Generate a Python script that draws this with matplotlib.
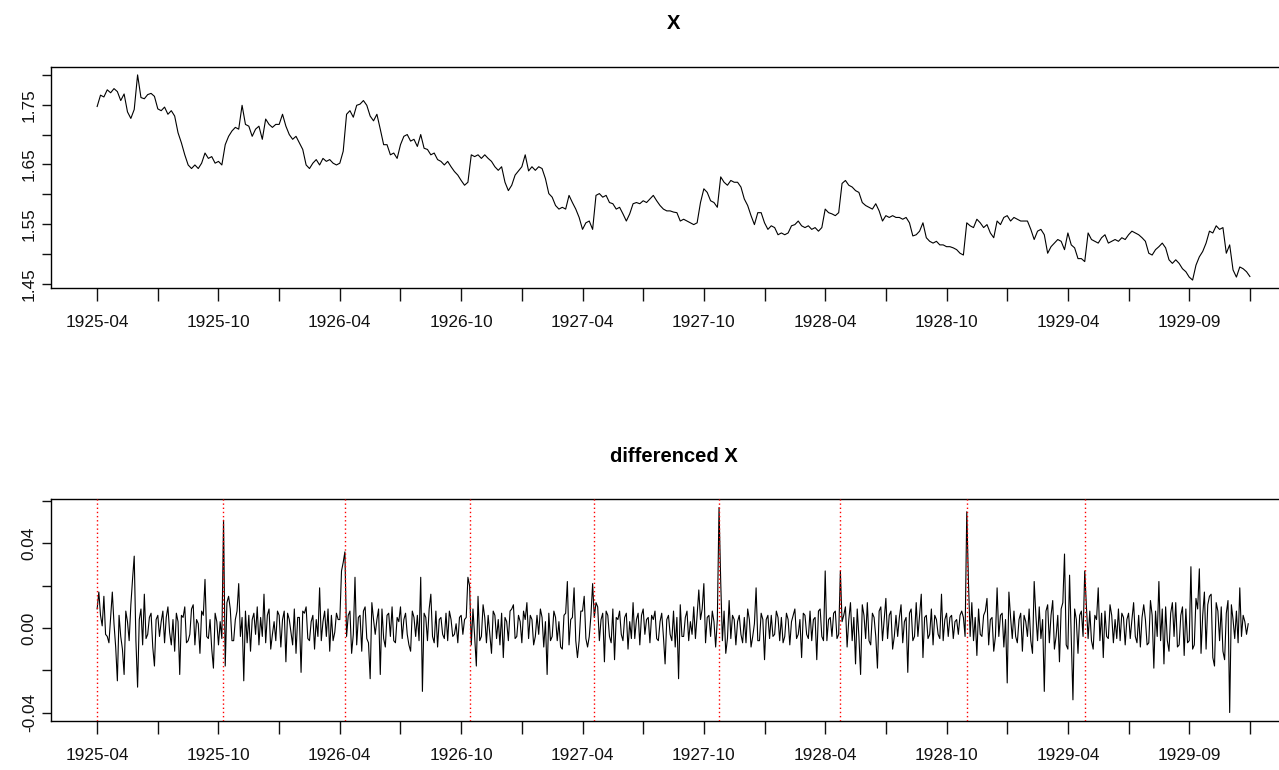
from __future__ import annotations

import matplotlib

matplotlib.use("Agg")
import matplotlib.pyplot as plt
import numpy as np


# trading-day index of the series; X is read every 4th day, its difference every 2nd
N_OBS = 1368
TICK_STEP = 72
X_STEP = 4
D_STEP = 2

TICK_LABELS = [
    "1925-04", "", "1925-10", "", "1926-04", "", "1926-10", "", "1927-04", "",
    "1927-10", "", "1928-04", "", "1928-10", "", "1929-04", "", "1929-09", "",
]

# contract roll days (index), marked in the differenced panel
ROLL_IDX = [0, 149, 294, 443, 590, 738, 882, 1032, 1172]

X = [
    1.747, 1.766, 1.763, 1.775, 1.770, 1.777, 1.772, 1.757, 1.768, 1.738, 1.727, 1.742, 1.800, 1.762, 1.760, 1.767, 1.769, 1.764,
    1.743, 1.740, 1.746, 1.734, 1.740, 1.731, 1.703, 1.686, 1.666, 1.649, 1.643, 1.649, 1.643, 1.652, 1.669, 1.660, 1.663, 1.652,
    1.655, 1.649, 1.683, 1.697, 1.706, 1.712, 1.709, 1.749, 1.717, 1.714, 1.697, 1.709, 1.714, 1.692, 1.726, 1.717, 1.712, 1.717,
    1.717, 1.734, 1.714, 1.700, 1.692, 1.697, 1.686, 1.675, 1.649, 1.643, 1.652, 1.658, 1.649, 1.660, 1.655, 1.658, 1.652, 1.649,
    1.652, 1.672, 1.734, 1.740, 1.729, 1.749, 1.751, 1.757, 1.749, 1.731, 1.723, 1.734, 1.709, 1.683, 1.683, 1.666, 1.669, 1.660,
    1.683, 1.697, 1.700, 1.689, 1.692, 1.680, 1.700, 1.677, 1.675, 1.666, 1.669, 1.658, 1.655, 1.649, 1.655, 1.646, 1.638, 1.632,
    1.623, 1.615, 1.620, 1.666, 1.663, 1.666, 1.660, 1.666, 1.660, 1.655, 1.646, 1.640, 1.646, 1.620, 1.606, 1.615, 1.632, 1.639,
    1.646, 1.666, 1.639, 1.646, 1.640, 1.646, 1.643, 1.626, 1.601, 1.595, 1.581, 1.575, 1.578, 1.575, 1.598, 1.586, 1.575, 1.561,
    1.541, 1.552, 1.555, 1.541, 1.598, 1.601, 1.595, 1.598, 1.586, 1.584, 1.575, 1.578, 1.567, 1.555, 1.567, 1.584, 1.586, 1.584,
    1.589, 1.586, 1.592, 1.598, 1.589, 1.581, 1.575, 1.572, 1.572, 1.570, 1.569, 1.555, 1.558, 1.555, 1.552, 1.549, 1.552, 1.586,
    1.609, 1.603, 1.589, 1.586, 1.578, 1.629, 1.620, 1.615, 1.623, 1.620, 1.620, 1.612, 1.592, 1.581, 1.564, 1.549, 1.569, 1.569,
    1.552, 1.541, 1.547, 1.544, 1.532, 1.535, 1.532, 1.535, 1.547, 1.549, 1.555, 1.547, 1.544, 1.547, 1.541, 1.544, 1.538, 1.544,
    1.575, 1.569, 1.567, 1.564, 1.569, 1.618, 1.623, 1.615, 1.612, 1.606, 1.603, 1.586, 1.581, 1.578, 1.575, 1.584, 1.572, 1.555,
    1.564, 1.561, 1.564, 1.561, 1.561, 1.558, 1.561, 1.552, 1.530, 1.532, 1.538, 1.552, 1.527, 1.521, 1.518, 1.521, 1.515, 1.515,
    1.512, 1.512, 1.510, 1.507, 1.501, 1.498, 1.552, 1.547, 1.544, 1.558, 1.552, 1.544, 1.549, 1.535, 1.527, 1.555, 1.549, 1.561,
    1.564, 1.555, 1.561, 1.558, 1.555, 1.555, 1.555, 1.541, 1.524, 1.538, 1.541, 1.532, 1.501, 1.512, 1.518, 1.524, 1.521, 1.507,
    1.535, 1.515, 1.510, 1.492, 1.492, 1.487, 1.535, 1.524, 1.521, 1.518, 1.527, 1.532, 1.518, 1.521, 1.524, 1.521, 1.527, 1.524,
    1.532, 1.538, 1.535, 1.532, 1.527, 1.521, 1.501, 1.498, 1.507, 1.512, 1.518, 1.510, 1.490, 1.484, 1.490, 1.484, 1.475, 1.470,
    1.461, 1.456, 1.481, 1.495, 1.504, 1.518, 1.538, 1.535, 1.547, 1.541, 1.544, 1.501, 1.515, 1.473, 1.461, 1.478, 1.475, 1.470,
    1.462,
]

DX = [
    0.009, 0.017, 0.006, 0.001, 0.015, -0.003, -0.004, -0.007, 0.005, 0.017, 0.002, -0.009, -0.025, 0.006, -0.004, -0.010, -0.022, 0.008,
    0.003, -0.006, 0.011, 0.023, 0.034, -0.006, -0.028, 0.004, 0.009, -0.008, 0.016, -0.005, -0.003, 0.005, 0.007, -0.009, -0.018, 0.004,
    0.006, -0.004, 0.003, 0.008, -0.007, 0.005, 0.010, -0.002, -0.008, 0.004, -0.011, 0.007, 0.003, -0.022, 0.006, 0.005, 0.010, -0.007,
    -0.006, -0.003, 0.009, 0.011, -0.008, 0.004, 0.002, -0.012, 0.008, 0.006, 0.023, -0.004, -0.005, 0.004, -0.010, -0.019, 0.007, 0.003,
    -0.008, 0.003, -0.005, 0.051, -0.018, 0.012, 0.015, 0.009, -0.006, -0.006, 0.004, 0.008, 0.021, -0.004, 0.005, -0.025, 0.008, -0.007,
    0.006, -0.011, 0.004, 0.007, -0.003, 0.010, -0.008, 0.005, -0.004, 0.016, -0.007, 0.006, 0.009, -0.010, -0.003, 0.003, -0.006, 0.008,
    0.006, -0.009, 0.004, 0.008, -0.016, 0.007, 0.004, -0.002, -0.008, 0.009, -0.012, 0.005, 0.005, -0.021, 0.008, 0.007, 0.010, -0.005,
    -0.006, 0.003, 0.006, -0.010, 0.004, -0.004, 0.019, -0.006, 0.003, 0.008, -0.004, 0.009, -0.011, 0.006, -0.006, -0.002, 0.007, 0.004,
    0.004, 0.027, 0.031, 0.036, -0.004, 0.006, 0.008, -0.012, -0.003, 0.024, -0.008, 0.005, 0.006, -0.011, 0.008, 0.010, -0.005, -0.007,
    -0.024, 0.012, 0.004, -0.003, 0.004, 0.009, -0.022, 0.009, -0.005, -0.009, 0.006, 0.007, -0.004, 0.010, -0.006, -0.007, 0.005, 0.003,
    0.010, -0.005, 0.004, 0.007, -0.003, -0.008, -0.011, 0.008, 0.005, -0.004, 0.006, -0.006, 0.024, -0.030, 0.007, 0.005, -0.006, 0.009,
    0.016, -0.004, -0.007, 0.008, -0.009, 0.004, 0.005, -0.003, -0.005, 0.007, -0.006, 0.008, 0.004, -0.004, -0.003, 0.002, -0.007, 0.005,
    0.006, -0.003, 0.004, 0.005, 0.024, 0.020, -0.008, 0.009, -0.004, -0.018, 0.015, -0.006, -0.004, 0.011, 0.005, -0.007, 0.006, -0.003,
    -0.012, 0.008, 0.006, -0.005, 0.004, -0.008, 0.007, -0.014, 0.005, 0.003, -0.006, 0.008, 0.009, 0.011, -0.005, -0.004, 0.006, 0.003,
    -0.007, 0.008, 0.004, 0.012, -0.005, 0.006, 0.004, -0.008, -0.004, 0.006, -0.003, 0.009, 0.005, -0.009, 0.003, -0.022, 0.007, -0.006,
    -0.004, 0.008, 0.005, -0.006, 0.003, -0.009, -0.010, 0.006, 0.007, 0.022, -0.008, 0.004, 0.005, 0.019, -0.006, -0.014, -0.006, 0.008,
    0.008, 0.015, -0.005, -0.009, -0.004, 0.006, 0.021, 0.005, 0.012, 0.010, -0.006, 0.004, 0.007, -0.016, 0.008, 0.006, -0.004, -0.007,
    0.009, -0.015, 0.005, 0.004, 0.008, -0.003, -0.006, 0.005, 0.007, -0.010, 0.003, -0.005, 0.012, -0.005, 0.004, 0.007, -0.008, 0.006,
    0.009, -0.003, 0.004, 0.005, -0.007, 0.006, 0.004, 0.008, -0.005, -0.006, 0.003, 0.007, -0.004, -0.017, 0.004, 0.006, -0.003, -0.006,
    0.008, -0.009, 0.005, -0.024, 0.011, -0.004, -0.004, 0.005, 0.008, -0.006, 0.003, -0.003, 0.010, -0.005, 0.006, 0.018, 0.004, 0.009,
    0.021, -0.007, 0.005, 0.006, -0.004, 0.008, 0.003, -0.009, 0.004, 0.057, 0.022, -0.006, 0.008, -0.012, -0.005, 0.013, -0.005, 0.006,
    0.004, -0.008, 0.003, 0.006, -0.003, -0.007, 0.005, -0.007, 0.009, 0.004, -0.009, -0.004, 0.002, 0.019, -0.006, -0.006, 0.007, 0.004,
    -0.015, 0.004, 0.006, -0.005, 0.006, -0.004, -0.003, 0.008, 0.005, -0.006, 0.005, -0.007, -0.004, 0.007, 0.004, -0.008, 0.003, 0.006,
    0.009, -0.005, -0.003, 0.004, -0.014, 0.007, 0.006, -0.003, -0.005, 0.008, -0.006, 0.004, 0.005, -0.015, 0.008, 0.009, -0.004, -0.006,
    0.027, -0.006, 0.004, 0.005, -0.004, 0.007, 0.008, -0.005, -0.003, 0.027, 0.003, 0.006, 0.010, -0.009, 0.004, 0.012, -0.006, 0.005,
    -0.017, 0.009, -0.004, -0.022, 0.011, 0.006, -0.005, 0.012, -0.006, -0.008, 0.007, 0.005, -0.004, -0.019, 0.008, 0.010, -0.006, 0.004,
    0.014, -0.005, 0.006, 0.008, -0.010, -0.004, 0.006, -0.004, 0.005, 0.011, -0.007, 0.003, 0.005, -0.021, 0.007, 0.009, -0.006, -0.004,
    0.012, -0.004, 0.006, 0.016, -0.014, 0.005, 0.006, -0.005, -0.003, 0.009, -0.008, 0.006, 0.004, -0.003, -0.005, 0.016, -0.006, 0.004,
    0.007, -0.004, 0.005, 0.006, -0.005, 0.003, 0.004, -0.003, 0.006, 0.008, 0.005, -0.004, 0.055, 0.022, -0.004, 0.012, -0.006, 0.005,
    -0.013, 0.009, -0.003, -0.004, 0.006, 0.008, 0.014, -0.008, 0.004, 0.005, -0.011, -0.004, 0.019, -0.004, 0.006, 0.007, -0.009, 0.004,
    -0.026, 0.017, 0.005, -0.005, 0.008, -0.004, -0.007, 0.004, 0.007, -0.011, 0.006, 0.003, -0.004, 0.009, -0.006, -0.012, 0.022, 0.006,
    -0.006, 0.010, -0.005, 0.004, -0.030, 0.008, 0.011, -0.007, 0.006, 0.013, -0.010, -0.004, 0.006, -0.016, 0.009, 0.012, 0.035, -0.008,
    -0.010, 0.025, -0.005, -0.034, 0.009, 0.004, -0.012, 0.006, 0.008, -0.004, 0.027, 0.010, -0.005, 0.008, -0.006, -0.010, 0.006, 0.004,
    0.019, -0.006, 0.007, -0.014, 0.008, -0.004, -0.005, 0.011, 0.006, -0.007, 0.004, -0.005, 0.009, -0.006, 0.007, 0.005, -0.008, 0.004,
    0.007, -0.005, 0.004, 0.012, -0.004, -0.007, 0.006, -0.009, 0.005, 0.011, 0.004, -0.008, -0.007, 0.013, 0.006, -0.019, 0.008, -0.004,
    0.022, -0.006, 0.009, -0.017, 0.010, -0.006, -0.011, 0.007, 0.012, -0.004, 0.012, -0.009, -0.008, 0.006, 0.010, -0.013, 0.009, -0.007,
    -0.006, 0.029, -0.010, -0.008, 0.014, 0.009, 0.028, -0.012, 0.006, 0.017, -0.010, 0.011, 0.015, 0.016, -0.014, -0.018, 0.012, 0.008,
    -0.006, 0.010, -0.011, -0.015, 0.007, 0.013, -0.040, 0.011, 0.004, -0.005, 0.008, -0.007, 0.019, -0.004, 0.006, 0.003, -0.003, 0.002,
]

Y_TICKS_TOP = [1.45, 1.50, 1.55, 1.60, 1.65, 1.70, 1.75, 1.80]
Y_LABELS_TOP = ["1.45", "", "1.55", "", "1.65", "", "1.75", ""]
Y_TICKS_BOT = [-0.04, -0.02, 0.00, 0.02, 0.04, 0.06]
Y_LABELS_BOT = ["-0.04", "", "0.00", "", "0.04", ""]


def r_style(ax, title, values, yticks, ylabels):
    # base-R look: 4% padding, boxed panel, vertical y labels
    lo, hi = min(values), max(values)
    pad = 0.04 * (hi - lo)
    ax.set_ylim(lo - pad, hi + pad)
    ax.set_xlim(-0.04 * N_OBS, 1.04 * N_OBS)
    ax.set_xticks(np.arange(0, N_OBS + 1, TICK_STEP))
    ax.set_xticklabels(TICK_LABELS)
    ax.set_yticks(yticks)
    ax.set_yticklabels(ylabels, rotation=90, va="center")
    ax.tick_params(axis="x", length=9, width=1, pad=10.5, labelsize=12.4, colors="#111111")
    ax.tick_params(axis="y", length=6.7, width=1, pad=3.5, labelsize=12.4, colors="#111111")
    for spine in ax.spines.values():
        spine.set_linewidth(1.0)
    ax.set_title(title, fontsize=14.5, fontweight="bold", pad=27)


def main() -> int:
    plt.rcParams["font.family"] = ["Liberation Sans", "DejaVu Sans"]

    fig = plt.figure(figsize=(12.79, 7.70), dpi=100)
    ax_top = fig.add_axes([0.0399, 0.6256, 0.9734, 0.2878])
    ax_bot = fig.add_axes([0.0399, 0.0640, 0.9734, 0.2875])

    x_pos = np.arange(len(X)) * X_STEP
    ax_top.plot(x_pos, X, color="black", linewidth=0.8)
    r_style(ax_top, "X", X, Y_TICKS_TOP, Y_LABELS_TOP)

    d_pos = np.arange(len(DX)) * D_STEP
    ax_bot.plot(d_pos, DX, color="black", linewidth=0.8)
    for idx in ROLL_IDX:
        ax_bot.axvline(idx, color="red", linestyle=(0, (1, 2)), linewidth=1.0, zorder=3)
    r_style(ax_bot, "differenced X", DX, Y_TICKS_BOT, Y_LABELS_BOT)

    fig.savefig("out.png", dpi=100)
    return 0


if __name__ == "__main__":
    raise SystemExit(main())
